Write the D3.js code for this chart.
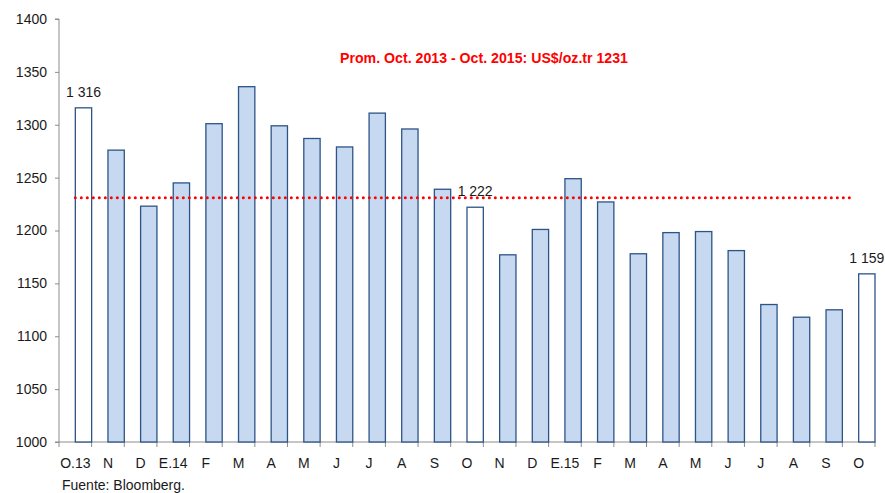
<!DOCTYPE html>
<html>
<head>
<meta charset="utf-8">
<script src="https://cdn.jsdelivr.net/npm/d3@7"></script>
<style>
  body { margin: 0; background: #fff; }
  svg { display: block; font-family: "Liberation Sans", Arial, sans-serif; }
  .axis path, .axis line { stroke: #8c8c8c; }
  .axis text { fill: #1a1a1a; font-size: 14px; }
</style>
</head>
<body>
<div id="chart"></div>
<script>
// months Oct 2013 - Oct 2015
var months = ["O.13", "N", "D", "E.14", "F", "M", "A", "M", "J", "J", "A", "S", "O",
              "N", "D", "E.15", "F", "M", "A", "M", "J", "J", "A", "S", "O"];
// gold price, US$/oz.tr (monthly average)
var prices = [1316, 1276, 1223, 1245, 1301, 1336, 1299, 1287, 1279, 1311, 1296, 1239, 1222,
              1177, 1201, 1249, 1227, 1178, 1198, 1199, 1181, 1130, 1118, 1125, 1159];
// bars drawn white (October of each year)
var highlight = [0, 12, 24];
// bars that get a value label
var labelled = [0, 12, 24];
var average = 1231;
var yTicks = [1000, 1050, 1100, 1150, 1200, 1250, 1300, 1350, 1400];

var fullWidth = 885,
    fullHeight = 493;
var margin = {top: 19, right: 10, bottom: 51, left: 59};
var width = 875 - margin.left,
    height = 442 - margin.top;

var data = months.map(function(m, i) {
  return {key: i, label: m, value: prices[i]};
});

var svg = d3.select("#chart").append("svg")
    .attr("width", fullWidth)
    .attr("height", fullHeight);

var g = svg.append("g")
    .attr("transform", "translate(" + margin.left + "," + margin.top + ")");

var x = d3.scaleBand()
    .domain(data.map(function(d) { return d.key; }))
    .range([0, width])
    .padding(0);

var y = d3.scaleLinear()
    .domain([1000, 1400])
    .range([height, 0]);

// y axis
g.append("g")
    .attr("class", "axis")
    .call(d3.axisLeft(y).tickValues(yTicks).tickSize(4).tickPadding(8).tickFormat(d3.format("d")))
    .call(function(a) { a.select(".domain").attr("d", "M-4," + height + "H0V0H-4"); });

// x axis (labels centred in each category)
var xAxis = g.append("g")
    .attr("class", "axis")
    .attr("transform", "translate(0," + height + ")")
    .call(d3.axisBottom(x).tickSize(0).tickPadding(16)
      .tickFormat(function(k) { return months[k]; }));
xAxis.select(".domain").attr("d", "M0,0H" + width);

// tick marks on category boundaries
xAxis.selectAll(".sep")
    .data(d3.range(months.length + 1))
    .enter().append("line")
    .attr("class", "sep")
    .attr("x1", function(i) { return i * x.step(); })
    .attr("x2", function(i) { return i * x.step(); })
    .attr("y1", 0)
    .attr("y2", 5);

// bars sit in the right half of each category
var bw = x.bandwidth() / 2;
g.selectAll(".bar")
    .data(data)
    .enter().append("rect")
    .attr("class", "bar")
    .attr("x", function(d) { return x(d.key) + bw; })
    .attr("width", bw)
    .attr("y", function(d) { return y(d.value); })
    .attr("height", function(d) { return y(1000) - y(d.value); })
    .attr("fill", function(d) { return highlight.indexOf(d.key) >= 0 ? "#ffffff" : "#c6d9f1"; })
    .attr("stroke", "#2d5487")
    .attr("stroke-width", 1.3);

// value labels
g.selectAll(".vlabel")
    .data(data.filter(function(d) { return labelled.indexOf(d.key) >= 0; }))
    .enter().append("text")
    .attr("class", "vlabel")
    .attr("x", function(d) { return x(d.key) + bw * 1.5; })
    .attr("y", function(d) { return y(d.value) - 11; })
    .attr("text-anchor", "middle")
    .style("font-size", "14px")
    .style("fill", "#1a1a1a")
    .text(function(d) { return d3.format(",")(d.value).replace(",", " "); });

// average line
g.append("line")
    .attr("x1", x(0) + bw)
    .attr("x2", x(months.length - 1) + 12)
    .attr("y1", y(average))
    .attr("y2", y(average))
    .attr("stroke", "#ff0000")
    .attr("stroke-width", 3)
    .attr("stroke-linecap", "round")
    .attr("stroke-dasharray", "0,6");

// average caption (condensed bold)
svg.append("text")
    .attr("x", 484)
    .attr("y", 63)
    .attr("text-anchor", "middle")
    .attr("textLength", 288)
    .attr("lengthAdjust", "spacingAndGlyphs")
    .style("font-weight", "bold")
    .style("font-size", "15px")
    .style("fill", "#ff0000")
    .text("Prom. Oct. 2013 - Oct. 2015: US$/oz.tr " + average);

// source
svg.append("text")
    .attr("x", 62)
    .attr("y", 490)
    .style("font-size", "14px")
    .style("fill", "#1a1a1a")
    .text("Fuente: Bloomberg.");
</script>
</body>
</html>
